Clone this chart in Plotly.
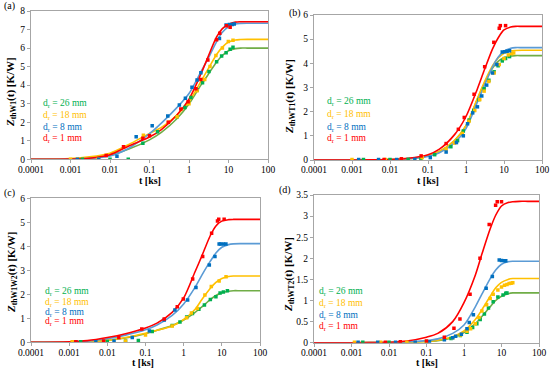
import plotly.graph_objects as go

# ---------------- data ----------------
T_FIT = [0.0001, 0.001, 0.003, 0.01, 0.03, 0.1, 0.2, 0.5, 1, 2, 3, 5, 7, 10, 15, 20, 30, 50, 100]

# Panel (a)
a_fit_26 = [0, 0.02, 0.07, 0.22, 0.55, 1.05, 1.45, 2.2, 2.98, 4.0, 4.55, 5.25, 5.6, 5.86, 5.97, 6.0, 6.0, 6.0, 6.0]
a_fit_18 = [0, 0.04, 0.13, 0.33, 0.8, 1.4, 1.72, 2.4, 3.1, 4.2, 4.85, 5.65, 6.05, 6.33, 6.44, 6.46, 6.47, 6.47, 6.47]
a_fit_8 = [0, 0.01, 0.05, 0.18, 0.6, 1.38, 1.95, 2.8, 3.55, 4.72, 5.4, 6.35, 6.85, 7.15, 7.3, 7.33, 7.34, 7.34, 7.34]
a_fit_1 = [0, 0.01, 0.06, 0.25, 0.72, 1.2, 1.6, 2.4, 3.25, 4.6, 5.5, 6.6, 7.05, 7.28, 7.4, 7.42, 7.42, 7.42, 7.42]
a_t_26 = [0.002, 0.01, 0.029, 0.068, 0.16, 0.5, 0.79, 1.12, 1.62, 2.2, 3.2, 5.0, 6.7, 8.7, 11, 13]
a_v_26 = [0, 0, 0, 0.86, 1.49, 2.3, 2.8, 3.34, 3.74, 4.13, 4.73, 5.26, 5.57, 5.75, 5.93, 6.04]
a_t_18 = [0.001, 0.005, 0.07, 0.3, 0.5, 1.0, 1.6, 2.5, 3.4, 4.8, 7.0, 9.9, 13]
a_v_18 = [0, 0, 1.3, 2.0, 2.3, 3.0, 3.7, 4.3, 5.0, 5.6, 6.0, 6.35, 6.42]
a_t_8 = [0.0015, 0.0052, 0.015, 0.046, 0.117, 0.29, 0.57, 0.81, 1.19, 1.6, 2.0, 5.9, 8.7, 10.5, 12.5, 14]
a_v_8 = [0, 0, 0.17, 1.22, 1.81, 2.34, 2.93, 3.29, 3.88, 4.28, 4.67, 6.52, 7.24, 7.27, 7.27, 7.3]
a_t_1 = [0.008, 0.022, 0.068, 0.1, 0.3, 0.62, 0.95, 1.5, 2.0, 3.0, 5.0, 6.0, 8.9, 11]
a_v_1 = [0.2, 0.68, 1.13, 1.27, 2.0, 2.72, 3.1, 3.8, 4.3, 5.36, 6.45, 6.8, 7.2, 7.12]

# Panel (b)
b_fit_26 = [0, 0, 0.004, 0.015, 0.05, 0.18, 0.35, 0.8, 1.42, 2.52, 3.15, 3.8, 4.08, 4.24, 4.3, 4.32, 4.32, 4.32, 4.32]
b_fit_18 = [0, 0, 0.004, 0.015, 0.05, 0.18, 0.35, 0.8, 1.42, 2.55, 3.2, 3.9, 4.22, 4.42, 4.51, 4.53, 4.54, 4.54, 4.54]
b_fit_8 = [0, 0, 0.004, 0.015, 0.05, 0.15, 0.3, 0.72, 1.3, 2.4, 3.05, 3.85, 4.25, 4.5, 4.62, 4.65, 4.65, 4.65, 4.65]
b_fit_1 = [0, 0, 0.005, 0.02, 0.07, 0.22, 0.45, 1.05, 1.8, 2.95, 3.7, 4.6, 5.05, 5.38, 5.5, 5.53, 5.53, 5.53, 5.53]
b_t_26 = [0.002, 0.01, 0.03, 0.065, 0.15, 0.4, 0.6, 0.85, 1.2, 1.6, 2.2, 3, 4, 5.5, 7, 9, 11, 14]
b_v_26 = [0.02, 0.02, 0.03, 0.07, 0.22, 0.55, 0.8, 1.2, 1.65, 2.05, 2.5, 2.95, 3.3, 3.65, 3.9, 4.1, 4.2, 4.28]
b_t_18 = [0.001, 0.0075, 0.02, 0.07, 0.3, 0.5, 0.8, 1.2, 1.7, 2.3, 3, 4, 5.5, 7.5, 10, 13, 16, 18]
b_v_18 = [0.02, 0.02, 0.03, 0.1, 0.45, 0.7, 1.1, 1.6, 2.05, 2.5, 2.85, 3.25, 3.6, 3.95, 4.2, 4.35, 4.4, 4.43]
b_t_8 = [0.0015, 0.005, 0.015, 0.045, 0.115, 0.3, 0.56, 0.85, 1.1, 1.5, 2.0, 2.6, 3.5, 5.0, 6.5, 9, 10.5, 12, 14]
b_v_8 = [0.02, 0.02, 0.02, 0.03, 0.1, 0.33, 0.72, 1.0, 1.5, 1.95, 2.2, 2.65, 3.1, 3.6, 3.95, 4.47, 4.48, 4.5, 4.52]
b_t_1 = [0.007, 0.02, 0.066, 0.3, 0.63, 0.9, 1.63, 3.1, 5.4, 7.5, 8, 11]
b_v_1 = [0.02, 0.05, 0.17, 0.68, 1.27, 1.76, 2.72, 3.86, 4.87, 5.45, 5.56, 5.56]

# Panel (c)
c_fit_26 = [0, 0.01, 0.03, 0.08, 0.18, 0.36, 0.5, 0.7, 0.93, 1.25, 1.48, 1.78, 1.95, 2.07, 2.13, 2.15, 2.15, 2.15, 2.15]
c_fit_18 = [0, 0.01, 0.03, 0.08, 0.2, 0.38, 0.5, 0.68, 0.95, 1.38, 1.78, 2.25, 2.5, 2.66, 2.74, 2.76, 2.76, 2.76, 2.76]
c_fit_8 = [0, 0.01, 0.05, 0.15, 0.3, 0.52, 0.72, 1.12, 1.6, 2.3, 2.8, 3.38, 3.72, 3.96, 4.07, 4.1, 4.11, 4.11, 4.11]
c_fit_1 = [0, 0.02, 0.07, 0.2, 0.36, 0.6, 0.8, 1.25, 1.85, 2.95, 3.6, 4.45, 4.85, 5.05, 5.11, 5.12, 5.12, 5.12, 5.12]
c_t_26 = [0.002, 0.01, 0.03, 0.065, 0.15, 0.5, 0.8, 1.2, 1.7, 2.5, 3.5, 5, 7, 9, 11, 14]
c_v_26 = [0.02, 0.03, 0.05, 0.07, 0.45, 0.7, 0.85, 1.05, 1.2, 1.38, 1.55, 1.78, 1.9, 2.05, 2.1, 2.15]
c_t_18 = [0.0012, 0.005, 0.03, 0.1, 0.5, 1.2, 1.6, 2.3, 3.6, 5.3, 8.5, 12.9]
c_v_18 = [0.02, 0.02, 0.05, 0.3, 0.68, 1.02, 1.22, 1.41, 1.97, 2.32, 2.55, 2.73]
c_t_8 = [0.0015, 0.005, 0.015, 0.045, 0.126, 0.31, 0.59, 1.27, 2.1, 4.7, 6.6, 8.5, 9.3, 11, 12.8]
c_v_8 = [0.02, 0.02, 0.05, 0.2, 0.47, 0.93, 1.35, 1.76, 2.28, 3.22, 3.57, 4.1, 4.1, 4.1, 4.1]
c_t_1 = [0.0015, 0.008, 0.02, 0.08, 0.31, 0.68, 0.98, 1.72, 3.15, 5.4, 7.7, 8.3, 11.5]
c_v_1 = [0.02, 0.05, 0.2, 0.55, 0.97, 1.48, 1.8, 2.64, 3.57, 4.54, 5.05, 5.13, 5.13]

# Panel (d)
d_fit_26 = [0, 0, 0.001, 0.003, 0.01, 0.03, 0.05, 0.12, 0.24, 0.45, 0.62, 0.85, 1.0, 1.1, 1.16, 1.18, 1.18, 1.18, 1.18]
d_fit_18 = [0, 0, 0.001, 0.003, 0.01, 0.03, 0.06, 0.14, 0.28, 0.55, 0.78, 1.1, 1.3, 1.43, 1.5, 1.52, 1.52, 1.52, 1.52]
d_fit_8 = [0, 0, 0.001, 0.005, 0.015, 0.05, 0.09, 0.22, 0.42, 0.85, 1.15, 1.52, 1.72, 1.86, 1.92, 1.93, 1.93, 1.93, 1.93]
d_fit_1 = [0, 0, 0.003, 0.01, 0.04, 0.13, 0.22, 0.5, 0.95, 1.6, 2.1, 2.7, 3.02, 3.24, 3.32, 3.34, 3.35, 3.35, 3.35]
d_t_26 = [0.002, 0.01, 0.1, 0.45, 0.8, 1.2, 1.7, 2.2, 2.7, 3.5, 4.5, 6, 8, 11, 13, 14]
d_v_26 = [0.01, 0.01, 0.02, 0.1, 0.17, 0.25, 0.36, 0.45, 0.55, 0.68, 0.82, 0.97, 1.08, 1.13, 1.17, 1.18]
d_t_18 = [0.0012, 0.006, 0.03, 0.1, 0.5, 0.8, 1.2, 1.5, 2, 2.5, 3, 4, 5, 6, 8, 10, 12, 14, 16, 18, 20]
d_v_18 = [0.01, 0.01, 0.01, 0.03, 0.12, 0.18, 0.27, 0.33, 0.45, 0.6, 0.75, 0.9, 1.05, 1.15, 1.25, 1.32, 1.36, 1.38, 1.4, 1.41, 1.42]
d_t_8 = [0.0015, 0.005, 0.015, 0.05, 0.12, 0.3, 0.5, 0.6, 0.85, 1.2, 1.38, 1.78, 3.9, 5.7, 8.7, 10, 12, 13]
d_v_8 = [0.01, 0.01, 0.01, 0.01, 0.02, 0.07, 0.12, 0.15, 0.2, 0.33, 0.48, 0.66, 1.29, 1.57, 1.96, 1.95, 1.94, 1.94]
d_t_1 = [0.008, 0.02, 0.1, 0.3, 0.54, 0.78, 1.45, 2.67, 4.7, 6.97, 7.7, 10]
d_v_1 = [0.01, 0.02, 0.04, 0.13, 0.34, 0.56, 1.15, 2.0, 2.8, 3.26, 3.34, 3.34]

SERIES_LABELS = ["26 mm", "18 mm", "8 mm", "1 mm"]
X_TICKS = [0.0001, 0.001, 0.01, 0.1, 1, 10, 100]
X_TICKTEXT = ["0.0001", "0.001", "0.01", "0.1", "1", "10", "100"]
PANEL_LABELS = ["(a)", "(b)", "(c)", "(d)"]
Y_TITLES = ["thW1", "thWT1", "thW1W2", "thWT2"]
Y_MAX = [8, 6, 6, 3.5]
Y_DTICK = [1, 1, 1, 0.5]

# ---------------- styling ----------------
LINE_COLORS = ["#70ad47", "#ffc000", "#5b9bd5", "#ff0000"]
MARK_COLORS = ["#00b050", "#ffc000", "#0070c0", "#ff0000"]
FONT = "Liberation Serif"
AX_COLOR = "#a6a6a6"

panels = [
    ([a_fit_26, a_fit_18, a_fit_8, a_fit_1],
     [(a_t_26, a_v_26), (a_t_18, a_v_18), (a_t_8, a_v_8), (a_t_1, a_v_1)]),
    ([b_fit_26, b_fit_18, b_fit_8, b_fit_1],
     [(b_t_26, b_v_26), (b_t_18, b_v_18), (b_t_8, b_v_8), (b_t_1, b_v_1)]),
    ([c_fit_26, c_fit_18, c_fit_8, c_fit_1],
     [(c_t_26, c_v_26), (c_t_18, c_v_18), (c_t_8, c_v_8), (c_t_1, c_v_1)]),
    ([d_fit_26, d_fit_18, d_fit_8, d_fit_1],
     [(d_t_26, d_v_26), (d_t_18, d_v_18), (d_t_8, d_v_8), (d_t_1, d_v_1)]),
]

W, H = 550, 369
# plot-area pixel boxes (left, right, top, bottom)
boxes = [(31, 268, 11, 159.3), (314, 542, 15, 160), (31, 260, 198.3, 342.3), (314, 539, 195, 342.7)]
label_pos = [(2, 6), (287, 13), (2, 193), (277, 190)]
legend_pos = [(41, [103, 115, 127, 139]), (325, [102, 114, 127, 139]),
              (43, [291.5, 302.5, 312, 321.5]), (317, [291.5, 303, 315, 326.5])]
ytitle_pos = [(11, 92), (290, 97), (12, 273), (289, 275)]
xtitle_pos = [(150, 180), (428, 180), (143, 362.5), (427, 362.5)]

fig = go.Figure()
layout = dict(width=W, height=H, margin=dict(l=0, r=0, t=0, b=0, autoexpand=False),
              paper_bgcolor="white", plot_bgcolor="white", showlegend=False,
              font=dict(family=FONT, size=9, color="#000000"))
annotations = []

for i, (fits, pts) in enumerate(panels):
    xa = "x" if i == 0 else f"x{i+1}"
    ya = "y" if i == 0 else f"y{i+1}"
    for k in range(4):
        fig.add_trace(go.Scatter(x=T_FIT, y=fits[k], xaxis=xa, yaxis=ya, mode="lines",
                                 line=dict(color=LINE_COLORS[k], width=1.6, shape="spline", smoothing=0.8),
                                 hoverinfo="skip"))
    for k in range(4):
        fig.add_trace(go.Scatter(x=pts[k][0], y=pts[k][1], xaxis=xa, yaxis=ya, mode="markers",
                                 marker=dict(color=MARK_COLORS[k], size=3.5, symbol="square"),
                                 hoverinfo="skip"))
    l, r, t, b = boxes[i]
    xkey = "xaxis" if i == 0 else f"xaxis{i+1}"
    ykey = "yaxis" if i == 0 else f"yaxis{i+1}"
    layout[xkey] = dict(type="log", range=[-4, 2], domain=[l / W, r / W], anchor=ya, automargin=False,
                        tickvals=X_TICKS, ticktext=X_TICKTEXT, showgrid=False, zeroline=False,
                        showline=True, linecolor=AX_COLOR, mirror=True, ticks="outside",
                        ticklen=3, tickcolor=AX_COLOR, tickfont=dict(size=9.5, family=FONT),
                        ticklabelstandoff=-2)
    layout[ykey] = dict(range=[0, Y_MAX[i]], dtick=Y_DTICK[i], domain=[1 - b / H, 1 - t / H], anchor=xa,
                        automargin=False, showgrid=False, zeroline=False, showline=True,
                        linecolor=AX_COLOR, mirror=True, ticks="outside", ticklen=3, tickcolor=AX_COLOR,
                        tickfont=dict(size=9.5, family=FONT))
    lx, ly = label_pos[i]
    annotations.append(dict(text=PANEL_LABELS[i], x=lx / W, y=1 - ly / H, xref="paper", yref="paper",
                            xanchor="left", yanchor="middle", showarrow=False,
                            font=dict(size=10, family=FONT, color="#000000")))
    tx, ty = ytitle_pos[i]
    annotations.append(dict(text=f"<b><i>Z</i><sub>{Y_TITLES[i]}</sub>(t) [K/W]</b>", x=tx / W, y=1 - ty / H,
                            xref="paper", yref="paper", xanchor="center", yanchor="middle",
                            textangle=-90, showarrow=False, font=dict(size=11, family=FONT, color="#000000")))
    tx, ty = xtitle_pos[i]
    annotations.append(dict(text="<b>t [ks]</b>", x=tx / W, y=1 - ty / H,
                            xref="paper", yref="paper", xanchor="center", yanchor="middle",
                            showarrow=False, font=dict(size=10, family=FONT, color="#000000")))
    gx, gys = legend_pos[i]
    for k in range(4):
        annotations.append(dict(text=f"d<sub>r</sub> = {SERIES_LABELS[k]}", x=gx / W, y=1 - gys[k] / H,
                                xref="paper", yref="paper", xanchor="left", yanchor="middle",
                                showarrow=False, font=dict(size=9.5, family=FONT, color=MARK_COLORS[k])))

layout["annotations"] = annotations
fig.update_layout(**layout)
fig.write_html("out.html", config={"displayModeBar": False},
               post_script="document.body.style.margin='0';document.body.style.padding='0';")
